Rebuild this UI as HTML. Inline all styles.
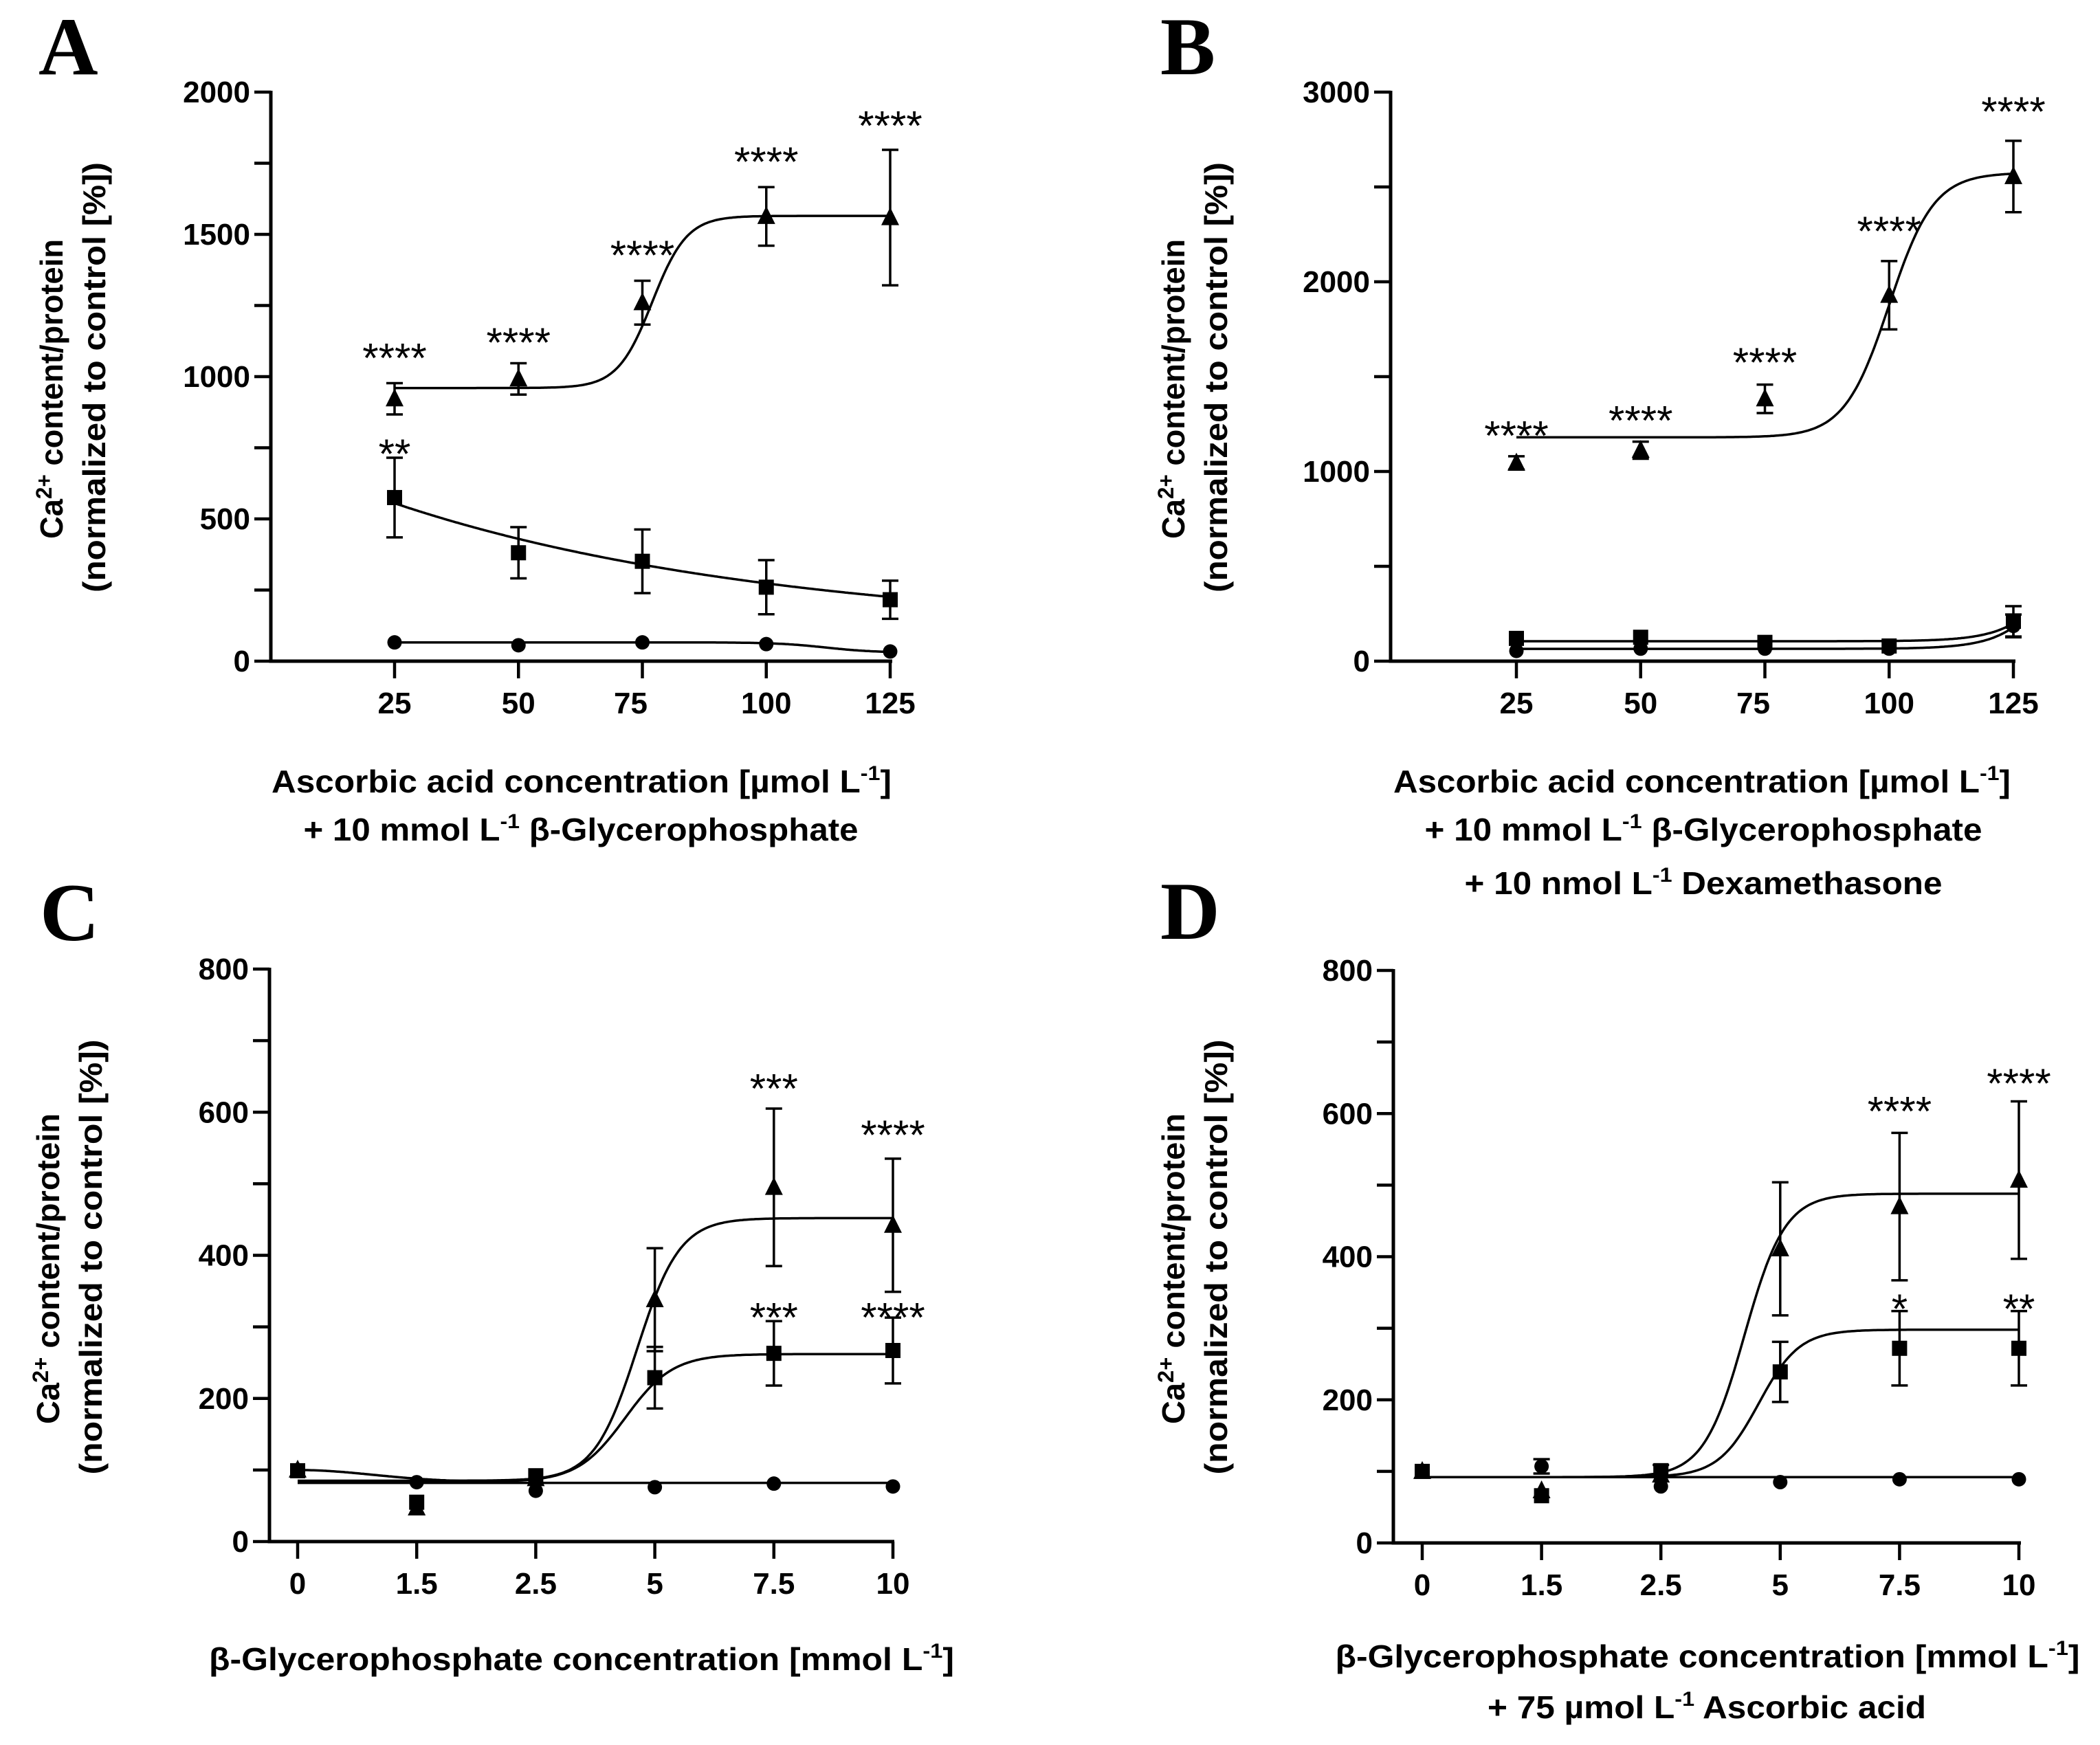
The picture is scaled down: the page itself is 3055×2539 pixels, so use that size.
<!DOCTYPE html>
<html><head><meta charset="utf-8"><style>
html,body{margin:0;padding:0;background:#fff;}
svg{display:block;}
text{font-family:"Liberation Sans",Arial,sans-serif;fill:#000;}
.ttl{font-weight:bold;font-size:46px;}
.let{font-family:"Liberation Serif","Times New Roman",serif;font-weight:bold;font-size:120px;}
</style></head><body>
<svg id="fig" width="3055" height="2539" viewBox="0 0 3055 2539" xmlns="http://www.w3.org/2000/svg">
<rect width="3055" height="2539" fill="#fff"/>
<text class="let" x="56" y="108">A</text>
<text class="let" x="1688" y="108">B</text>
<text class="let" x="58" y="1368">C</text>
<text class="let" x="1688" y="1366">D</text>

<!-- Panel A titles -->
<g>
<text class="ttl" text-anchor="middle" transform="translate(91,566) rotate(-90)" textLength="436" lengthAdjust="spacingAndGlyphs">Ca<tspan font-size="32" dy="-16">2+</tspan><tspan dy="16"> content/protein</tspan></text>
<text class="ttl" text-anchor="middle" transform="translate(153,549) rotate(-90)" textLength="626" lengthAdjust="spacingAndGlyphs">(normalized to control [%])</text>
</g>
<g>
<text class="ttl" text-anchor="middle" x="846" y="1153" textLength="902" lengthAdjust="spacingAndGlyphs">Ascorbic acid concentration [µmol L<tspan font-size="30" dy="-18">-1</tspan><tspan dy="18">]</tspan></text>
<text class="ttl" text-anchor="middle" x="845" y="1223" textLength="807" lengthAdjust="spacingAndGlyphs">+ 10 mmol L<tspan font-size="30" dy="-18">-1</tspan><tspan dy="18"> β-Glycerophosphate</tspan></text>
</g>
<!-- Panel B titles -->
<g>
<text class="ttl" text-anchor="middle" transform="translate(1723,566) rotate(-90)" textLength="436" lengthAdjust="spacingAndGlyphs">Ca<tspan font-size="32" dy="-16">2+</tspan><tspan dy="16"> content/protein</tspan></text>
<text class="ttl" text-anchor="middle" transform="translate(1785,549) rotate(-90)" textLength="626" lengthAdjust="spacingAndGlyphs">(normalized to control [%])</text>
</g>
<g>
<text class="ttl" text-anchor="middle" x="2476" y="1153" textLength="898" lengthAdjust="spacingAndGlyphs">Ascorbic acid concentration [µmol L<tspan font-size="30" dy="-18">-1</tspan><tspan dy="18">]</tspan></text>
<text class="ttl" text-anchor="middle" x="2478" y="1223" textLength="811" lengthAdjust="spacingAndGlyphs">+ 10 mmol L<tspan font-size="30" dy="-18">-1</tspan><tspan dy="18"> β-Glycerophosphate</tspan></text>
<text class="ttl" text-anchor="middle" x="2478" y="1301" textLength="695" lengthAdjust="spacingAndGlyphs">+ 10 nmol L<tspan font-size="30" dy="-18">-1</tspan><tspan dy="18"> Dexamethasone</tspan></text>
</g>
<!-- Panel C titles -->
<g>
<text class="ttl" text-anchor="middle" transform="translate(86,1846) rotate(-90)" textLength="452" lengthAdjust="spacingAndGlyphs">Ca<tspan font-size="32" dy="-16">2+</tspan><tspan dy="16"> content/protein</tspan></text>
<text class="ttl" text-anchor="middle" transform="translate(148,1829) rotate(-90)" textLength="633" lengthAdjust="spacingAndGlyphs">(normalized to control [%])</text>
</g>
<g>
<text class="ttl" text-anchor="middle" x="846" y="2430" textLength="1084" lengthAdjust="spacingAndGlyphs">β-Glycerophosphate concentration [mmol L<tspan font-size="30" dy="-18">-1</tspan><tspan dy="18">]</tspan></text>
</g>
<!-- Panel D titles -->
<g>
<text class="ttl" text-anchor="middle" transform="translate(1723,1846) rotate(-90)" textLength="452" lengthAdjust="spacingAndGlyphs">Ca<tspan font-size="32" dy="-16">2+</tspan><tspan dy="16"> content/protein</tspan></text>
<text class="ttl" text-anchor="middle" transform="translate(1785,1829) rotate(-90)" textLength="633" lengthAdjust="spacingAndGlyphs">(normalized to control [%])</text>
</g>
<g>
<text class="ttl" text-anchor="middle" x="2484" y="2426" textLength="1083" lengthAdjust="spacingAndGlyphs">β-Glycerophosphate concentration [mmol L<tspan font-size="30" dy="-18">-1</tspan><tspan dy="18">]</tspan></text>
<text class="ttl" text-anchor="middle" x="2483" y="2500" textLength="638" lengthAdjust="spacingAndGlyphs">+ 75 µmol L<tspan font-size="30" dy="-18">-1</tspan><tspan dy="18"> Ascorbic acid</tspan></text>
</g>
</svg>
<script>
// ---------- Panel A data ----------
const A_cats = [25, 50, 75, 100, 125];
const A_xLabels = ['25', '50', '75', '100', '125'];
const A_yTicks = [0, 500, 1000, 1500, 2000];
const A_tri = [922, 992, 1260, 1563, 1559];
const A_triErr = [55, 55, 77, 103, 238];
const A_sq = [575, 381, 351, 260, 216];
const A_sqErr = [140, 90, 112, 95, 67];
const A_circ = [66, 56, 66, 60, 34];
const A_circErr = [0, 0, 0, 0, 0];
const A_triFit = [960, 1565, 77, 3.5];
const A_sqFit = [100, 455, 0.01286];
const A_circFit = [30, 66, 112, 5];
const A_starText = ['****', '****', '****', '****', '****', '**'];
const A_starCat = [25, 50, 75, 100, 125, 25];
const A_starVal = [1098, 1152, 1459, 1788, 1914, 761];

// ---------- Panel B data ----------
const B_cats = [25, 50, 75, 100, 125];
const B_xLabels = ['25', '50', '75', '100', '125'];
const B_yTicks = [0, 1000, 2000, 3000];
const B_tri = [1045, 1112, 1383, 1929, 2555];
const B_triErr = [35, 45, 75, 180, 188];
const B_sq = [120, 126, 99, 80, 210];
const B_sqErr = [0, 0, 0, 0, 80];
const B_circ = [54, 66, 66, 66, 186];
const B_circErr = [0, 0, 0, 0, 60];
const B_triFit = [1180, 2575, 100, 4.5];
const B_sqFit = [105, 95, 6];
const B_circFit = [65, 115, 6];
const B_starText = ['****', '****', '****', '****', '****'];
const B_starCat = [25, 50, 75, 100, 125];
const B_starVal = [1238, 1317, 1623, 2316, 2946];

// ---------- Panel C data ----------
const C_xLabels = ['0', '1.5', '2.5', '5', '7.5', '10'];
const C_yTicks = [0, 200, 400, 600, 800];
const C_tri = [100, 47, 88, 338, 495, 442];
const C_triErr = [0, 0, 0, 72, 110, 93];
const C_sq = [99, 55, 92, 229, 263, 267];
const C_sqErr = [0, 0, 0, 43, 45, 46];
const C_circ = [100, 83, 71, 76, 81, 77];
const C_circErr = [0, 0, 0, 0, 0, 0];
const C_triFit = [85, 452, 2.85, 0.18];
const C_sqFit = [83, 262, 2.75, 0.2, 17];
const C_circFit = [82];
const C_starText = ['***', '****', '***', '****'];
const C_starCat = [4, 5, 4, 5];
const C_starVal = [646, 581, 326, 326];

// ---------- Panel D data ----------
const D_xLabels = ['0', '1.5', '2.5', '5', '7.5', '10'];
const D_yTicks = [0, 200, 400, 600, 800];
const D_tri = [100, 73, 95, 411, 470, 507];
const D_triErr = [0, 0, 0, 93, 103, 110];
const D_sq = [100, 66, 101, 239, 272, 272];
const D_sqErr = [0, 0, 8, 42, 52, 52];
const D_circ = [100, 107, 79, 85, 89, 89];
const D_circErr = [0, 10, 0, 0, 0, 0];
const D_triFit = [92, 488, 2.7, 0.17];
const D_sqFit = [92, 298, 2.82, 0.17, 0];
const D_circFit = [92];
const D_starText = ['****', '****', '*', '**'];
const D_starCat = [4, 5, 4, 5];
const D_starVal = [616, 655, 340, 340];

const NS = 'http://www.w3.org/2000/svg';
const svg = document.getElementById('fig');
function hill(x, b, t, m, s) { return b + (t - b) / (1 + Math.exp(-(x - m) / s)); }

function mk(tag, attrs, parent, name) {
  const el = document.createElementNS(NS, tag);
  for (const k in attrs) el.setAttribute(k, attrs[k]);
  
  
  parent.appendChild(el);
  return el;
}

function panel(p) {
  const g = document.createElementNS(NS, 'g');
  
  
  svg.appendChild(g);
  const ymax = p.yTicks[p.yTicks.length - 1];
  const Y = v => p.yBot - v / ymax * (p.yBot - p.yTop);
  const X = p.X;
  // axes
  mk('line', {x1: p.ax, y1: p.yTop - 2, x2: p.ax, y2: p.yBot + 2.5, stroke: '#000', 'stroke-width': 5}, g, 'y-axis-line');
  mk('line', {x1: p.ax - 2.5, y1: p.yBot, x2: p.xEnd, y2: p.yBot, stroke: '#000', 'stroke-width': 5}, g, 'x-axis-line');
  // y ticks (major + minor halfway)
  const step = p.yTicks[1] - p.yTicks[0];
  for (let i = 0; i < p.yTicks.length; i++) {
    const v = p.yTicks[i];
    mk('line', {x1: p.ax - 24, y1: Y(v), x2: p.ax, y2: Y(v), stroke: '#000', 'stroke-width': 4.5}, g, 'y-tick');
    const t = mk('text', {x: p.ax - 30, y: Y(v) + 15, 'text-anchor': 'end', 'font-size': 44, 'font-weight': 'bold'}, g, 'y-tick-label');
    t.textContent = String(v);
    if (i < p.yTicks.length - 1) {
      mk('line', {x1: p.ax - 24, y1: Y(v + step / 2), x2: p.ax, y2: Y(v + step / 2), stroke: '#000', 'stroke-width': 4.5}, g, 'y-minor-tick');
    }
  }
  // x ticks
  for (let i = 0; i < p.cats.length; i++) {
    const x = X(p.cats[i]);
    mk('line', {x1: x, y1: p.yBot, x2: x, y2: p.yBot + 25, stroke: '#000', 'stroke-width': 4.5}, g, 'x-tick');
    const t = mk('text', {x: x + (p.xLabels[i] === '75' ? -17 : 0), y: p.yBot + 76, 'text-anchor': 'middle', 'font-size': 44, 'font-weight': 'bold'}, g, 'x-tick-label');
    t.textContent = p.xLabels[i];
  }
  // curves
  p.fits.forEach(f => {
    let d = '';
    const n = 300;
    for (let k = 0; k <= n; k++) {
      const xv = f.x0 + (f.x1 - f.x0) * k / n;
      d += (k ? 'L' : 'M') + X(xv).toFixed(1) + ',' + Y(f.fn(xv)).toFixed(1);
    }
    mk('path', {d: d, fill: 'none', stroke: '#000', 'stroke-width': 3.5}, g, f.name);
  });
  // series
  p.series.forEach(s => {
    for (let i = 0; i < s.vals.length; i++) {
      const v = s.vals[i];
      if (v === null) continue;
      const x = X(p.cats[i]), y = Y(v);
      const e = s.err[i];
      if (e > 0) {
        mk('line', {x1: x, y1: Y(v + e), x2: x, y2: Y(v - e), stroke: '#000', 'stroke-width': 3.5}, g, s.kind + '-error-bar');
        mk('line', {x1: x - 12, y1: Y(v + e), x2: x + 12, y2: Y(v + e), stroke: '#000', 'stroke-width': 3.5}, g, s.kind + '-error-cap');
        mk('line', {x1: x - 12, y1: Y(v - e), x2: x + 12, y2: Y(v - e), stroke: '#000', 'stroke-width': 3.5}, g, s.kind + '-error-cap');
      }
      if (s.kind === 'triangle') {
        mk('polygon', {points: (x) + ',' + (y - 15) + ' ' + (x - 13) + ',' + (y + 11) + ' ' + (x + 13) + ',' + (y + 11), fill: '#000'}, g, 'triangle-point');
      } else if (s.kind === 'square') {
        mk('rect', {x: x - 11, y: y - 11, width: 22, height: 22, fill: '#000'}, g, 'square-point');
      } else {
        mk('circle', {cx: x, cy: y, r: 10.5, fill: '#000'}, g, 'circle-point');
      }
    }
  });
  // significance stars
  for (let i = 0; i < p.starText.length; i++) {
    const t = mk('text', {x: X(p.starCat[i]), y: Y(p.starVal[i]) + 34, 'text-anchor': 'middle', 'font-size': 60}, g, 'significance-marker');
    t.textContent = p.starText[i];
  }
}

const linX = (x25, x125) => v => x25 + (v - 25) * (x125 - x25) / 100;
const idxX = (x0, x10) => i => x0 + i * (x10 - x0) / 5;
const idx = [0, 1, 2, 3, 4, 5];

panel({id: 'a', ax: 394, yTop: 134, yBot: 962, xEnd: 1298, X: linX(574, 1295), cats: A_cats, xLabels: A_xLabels, yTicks: A_yTicks,
  fits: [
    {name: 'triangle-fit-curve', x0: 25, x1: 125, fn: x => hill(x, A_triFit[0], A_triFit[1], A_triFit[2], A_triFit[3])},
    {name: 'square-fit-curve', x0: 25, x1: 125, fn: x => A_sqFit[0] + A_sqFit[1] * Math.exp(-A_sqFit[2] * (x - 25))},
    {name: 'circle-fit-curve', x0: 25, x1: 125, fn: x => A_circFit[0] + (A_circFit[1] - A_circFit[0]) / (1 + Math.exp((x - A_circFit[2]) / A_circFit[3]))}
  ],
  series: [{kind: 'circle', vals: A_circ, err: A_circErr}, {kind: 'square', vals: A_sq, err: A_sqErr}, {kind: 'triangle', vals: A_tri, err: A_triErr}],
  starText: A_starText, starCat: A_starCat, starVal: A_starVal});

panel({id: 'b', ax: 2023, yTop: 134, yBot: 962, xEnd: 2932, X: linX(2206, 2929), cats: B_cats, xLabels: B_xLabels, yTicks: B_yTicks,
  fits: [
    {name: 'triangle-fit-curve', x0: 25, x1: 125, fn: x => hill(x, B_triFit[0], B_triFit[1], B_triFit[2], B_triFit[3])},
    {name: 'square-fit-curve', x0: 25, x1: 125, fn: x => B_sqFit[0] + B_sqFit[1] * Math.exp((x - 125) / B_sqFit[2])},
    {name: 'circle-fit-curve', x0: 25, x1: 125, fn: x => B_circFit[0] + B_circFit[1] * Math.exp((x - 125) / B_circFit[2])}
  ],
  series: [{kind: 'circle', vals: B_circ, err: B_circErr}, {kind: 'square', vals: B_sq, err: B_sqErr}, {kind: 'triangle', vals: B_tri, err: B_triErr}],
  starText: B_starText, starCat: B_starCat, starVal: B_starVal});

panel({id: 'c', ax: 392, yTop: 1410, yBot: 2243, xEnd: 1301, X: idxX(433, 1299), cats: idx, xLabels: C_xLabels, yTicks: C_yTicks,
  fits: [
    {name: 'circle-fit-curve', x0: 0, x1: 5, fn: x => C_circFit[0]},
    {name: 'square-fit-curve', x0: 0, x1: 5, fn: x => hill(x, C_sqFit[0], C_sqFit[1], C_sqFit[2], C_sqFit[3]) + C_sqFit[4] * Math.exp(-x * x / 0.8)},
    {name: 'triangle-fit-curve', x0: 0, x1: 5, fn: x => hill(x, C_triFit[0], C_triFit[1], C_triFit[2], C_triFit[3])}
  ],
  series: [{kind: 'circle', vals: C_circ, err: C_circErr}, {kind: 'triangle', vals: C_tri, err: C_triErr}, {kind: 'square', vals: C_sq, err: C_sqErr}],
  starText: C_starText, starCat: C_starCat, starVal: C_starVal});

panel({id: 'd', ax: 2027, yTop: 1412, yBot: 2245, xEnd: 2940, X: idxX(2069, 2937), cats: idx, xLabels: D_xLabels, yTicks: D_yTicks,
  fits: [
    {name: 'circle-fit-curve', x0: 0, x1: 5, fn: x => D_circFit[0]},
    {name: 'square-fit-curve', x0: 0, x1: 5, fn: x => hill(x, D_sqFit[0], D_sqFit[1], D_sqFit[2], D_sqFit[3]) + D_sqFit[4]},
    {name: 'triangle-fit-curve', x0: 0, x1: 5, fn: x => hill(x, D_triFit[0], D_triFit[1], D_triFit[2], D_triFit[3])}
  ],
  series: [{kind: 'circle', vals: D_circ, err: D_circErr}, {kind: 'triangle', vals: D_tri, err: D_triErr}, {kind: 'square', vals: D_sq, err: D_sqErr}],
  starText: D_starText, starCat: D_starCat, starVal: D_starVal});
</script>
</body></html>
